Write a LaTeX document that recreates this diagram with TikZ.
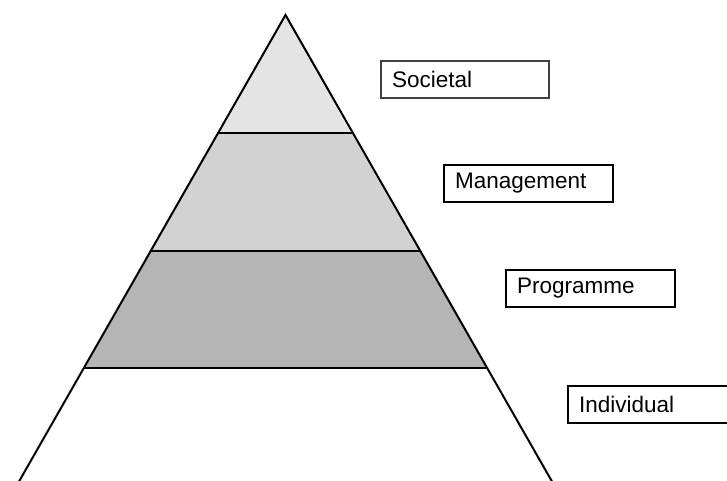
\documentclass[tikz,border=0pt]{standalone}
\usepackage{fontspec}
\setmainfont{Liberation Sans}
\definecolor{tierA}{RGB}{228,228,228}
\definecolor{tierB}{RGB}{210,210,210}
\definecolor{tierC}{RGB}{181,181,181}
\begin{document}
\begin{tikzpicture}[x=1pt,y=-1pt,
  edge/.style={draw=black, line width=2pt, line join=miter},
  labelbox/.style={draw=black, line width=2pt, rectangle, anchor=north west,
    minimum height=37pt, inner xsep=11pt, inner ysep=0pt, align=left,
    font=\fontsize{22.5}{26}\selectfont}]
\useasboundingbox (0,0) rectangle (727,480);
\clip (0,0) rectangle (727,480);
% pyramid corners, top to bottom
\coordinate (apex) at (285.5,15);
\coordinate (l1) at (218,133);   \coordinate (r1) at (353,133);
\coordinate (l2) at (150.7,251); \coordinate (r2) at (420.3,251);
\coordinate (l3) at (84,368);    \coordinate (r3) at (487,368);
\coordinate (l4) at (17,485);    \coordinate (r4) at (554,485);
% tiers
\fill[tierA] (apex) -- (r1) -- (l1) -- cycle;
\fill[tierB] (l1) -- (r1) -- (r2) -- (l2) -- cycle;
\fill[tierC] (l2) -- (r2) -- (r3) -- (l3) -- cycle;
\draw[edge] (l1) -- (r1);
\draw[edge] (l2) -- (r2);
\draw[edge] (l3) -- (r3);
\draw[edge] (l4) -- (apex) -- (r4);
% tier labels
\node[labelbox, draw=black!75, text width=146pt] (societal) at (380,60) {Societal};
\node[labelbox, text width=147pt] (management) at (443,164) {Management};
\node[labelbox, text width=147pt] (programme) at (505,269) {Programme};
\node[labelbox, text width=160pt] (individual) at (567,385) {Individual};
\end{tikzpicture}
\end{document}
